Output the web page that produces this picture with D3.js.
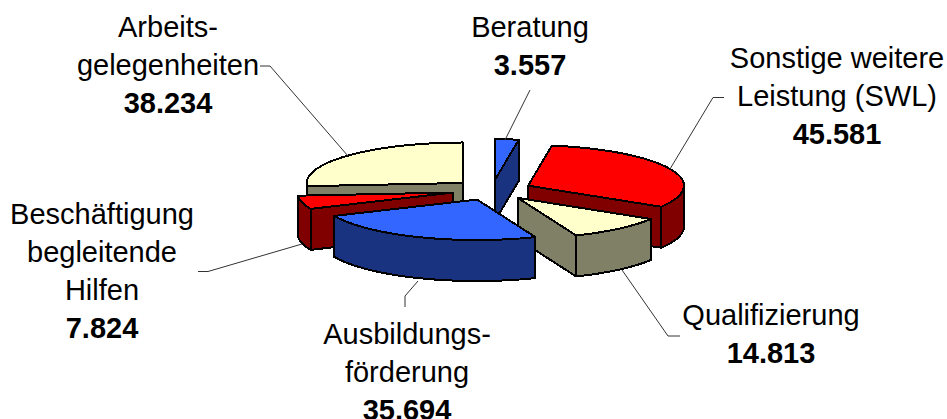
<!DOCTYPE html>
<html lang="de">
<head>
<meta charset="utf-8">
<title>Leistungen</title>
<script src="https://cdn.jsdelivr.net/npm/d3@7/dist/d3.min.js"></script>
<style>
  html, body { margin: 0; padding: 0; background: #fff; overflow: hidden; }
  text { font-family: "Liberation Sans", Arial, sans-serif; fill: #000; }
</style>
</head>
<body>
<div id="chart"></div>
<script>
// values, clockwise from 12 o'clock
const categories = [
  ['Beratung'],
  ['Sonstige weitere', 'Leistung (SWL)'],
  ['Qualifizierung'],
  ['Ausbildungs-', 'förderung'],
  ['Beschäftigung', 'begleitende', 'Hilfen'],
  ['Arbeits-', 'gelegenheiten']
];
const values = [3557, 45581, 14813, 35694, 7824, 38234];
const valueLabels = ['3.557', '45.581', '14.813', '35.694', '7.824', '38.234'];
const topColors = ['#3366FF', '#FF0000', '#FFFFCC', '#3366FF', '#FF0000', '#FFFFCC'];
const sideColors = ['#1A3380', '#800000', '#808066', '#1A3380', '#800000', '#808066'];

const W = 947, H = 419;
const explode = 0.255;   // same for all slices
const depth = 41;        // height of the cake in px

const svg = d3.select('#chart').append('svg')
  .attr('width', W).attr('height', H)
  .style('display', 'block');

// unit circle -> flattened ellipse
const x = d3.scaleLinear().domain([-1, 1]).range([492 - 156, 492 + 156]);
const y = d3.scaleLinear().domain([-1, 1]).range([190 - 40.5, 190 + 40.5]);

const slices = d3.pie().sort(null).value(d => d)(values).map((s, i) => {
  const mid = (s.startAngle + s.endAngle) / 2;
  return {
    i,
    start: s.startAngle,
    end: s.endAngle,
    ox: Math.sin(mid) * explode,
    oy: -Math.cos(mid) * explode
  };
});

const pt = (s, r, a, drop = 0) => [
  x(s.ox + r * Math.sin(a)),
  y(s.oy - r * Math.cos(a)) + drop
];
const rimAngles = (a0, a1) => {
  const n = Math.max(1, Math.ceil((a1 - a0) / (Math.PI / 36)));
  return d3.range(n + 1).map(k => a0 + (a1 - a0) * k / n);
};
const poly = d3.line();

const draw = (g, pts, fill) => g.append('path')
  .attr('d', poly(pts) + 'Z')
  .attr('fill', fill)
  .attr('stroke', '#000')
  .attr('stroke-width', 2)
  .attr('stroke-linejoin', 'round')
  .attr('shape-rendering', 'crispEdges');

// back to front
const order = slices.slice().sort((a, b) => a.oy - b.oy);
const pie = svg.append('g');

order.forEach(s => {
  const g = pie.append('g');
  const side = sideColors[s.i];

  const radialWall = a => draw(g, [
    pt(s, 0, a), pt(s, 1, a), pt(s, 1, a, depth), pt(s, 0, a, depth)
  ], side);

  // only walls that face the viewer
  if (Math.sin(s.start) < -1e-6) radialWall(s.start);
  if (Math.sin(s.end) > 1e-6) radialWall(s.end);

  const a0 = Math.max(s.start, Math.PI / 2);
  const a1 = Math.min(s.end, Math.PI * 1.5);
  if (a1 > a0) {
    const rim = rimAngles(a0, a1);
    draw(g, [
      ...rim.map(a => pt(s, 1, a)),
      ...rim.slice().reverse().map(a => pt(s, 1, a, depth))
    ], side);
  }

  // top face
  draw(g, [pt(s, 0, 0), ...rimAngles(s.start, s.end).map(a => pt(s, 1, a))], topColors[s.i]);
});

// leader lines
const leaders = [
  [[530, 90], [505, 140]],
  [[724, 97.5], [713, 97.5], [670, 169]],
  [[680, 336], [668, 336], [622, 270]],
  [[405, 307], [405, 296], [418, 281]],
  [[198, 271.5], [208, 271.5], [302, 244]],
  [[260, 66], [270, 66], [348, 156]]
];
svg.append('g').selectAll('path')
  .data(leaders).join('path')
  .attr('d', d => d3.line()(d))
  .attr('fill', 'none')
  .attr('stroke', '#333')
  .attr('stroke-width', 1);

// labels: centre x and first baseline, per slice
const labelPos = [[530, 37], [837, 68], [771, 325], [407, 344], [102, 224], [168, 37]];
const lineH = 38;
const labels = svg.append('g').attr('text-anchor', 'middle').attr('font-size', 29);
categories.forEach((lines, i) => {
  const [lx, ly] = labelPos[i];
  const t = labels.append('text').attr('x', lx).attr('y', ly);
  lines.forEach((l, k) => {
    t.append('tspan').attr('x', lx).attr('y', ly + k * lineH).text(l);
  });
  t.append('tspan')
    .attr('x', lx).attr('y', ly + lines.length * lineH)
    .attr('font-weight', 700)
    .text(valueLabels[i]);
});
</script>
</body>
</html>
